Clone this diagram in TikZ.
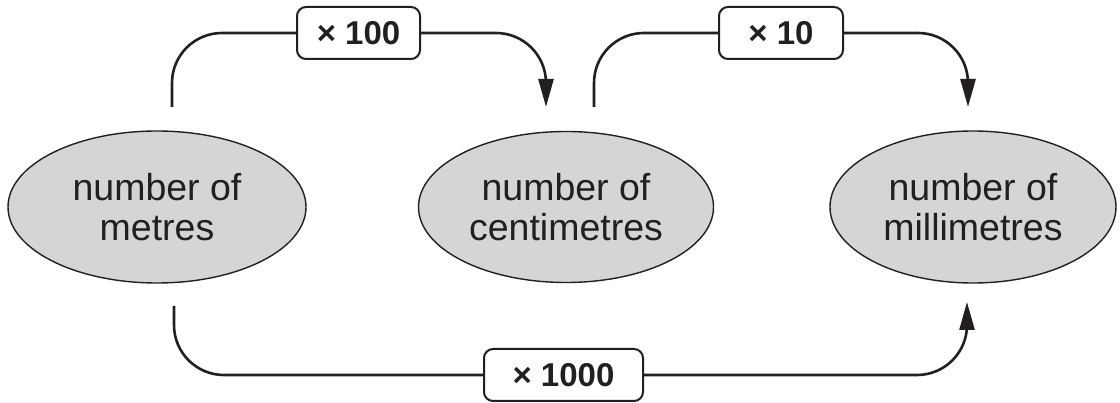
\documentclass[tikz,border=0pt]{standalone}
\usepackage{fontspec}
\setmainfont{Liberation Sans}
\usetikzlibrary{shapes.geometric,arrows.meta}
\definecolor{ellfill}{HTML}{D4D5D7}
\definecolor{ink}{HTML}{231F20}
\tikzset{
  qty/.style={ellipse, draw=ink, line width=1.4pt, fill=ellfill, inner sep=0pt,
    align=center, text=ink, font=\fontsize{37.5}{40}\selectfont},
  factor/.style={draw=ink, line width=2pt, rounded corners=9pt, fill=white, inner sep=0pt,
    minimum height=52pt, text=ink, font=\fontsize{33}{36}\selectfont\bfseries},
  flow/.style={draw=ink, line width=2.6pt, rounded corners=50pt},
  tip/.style={-{Triangle[length=28pt,width=15pt]}}
}
\begin{document}
\begin{tikzpicture}[x=1pt,y=-1pt]
\useasboundingbox (0,0) rectangle (1120,403);
% quantities
\node[qty, minimum width=298pt, minimum height=152pt] (m) at (157,207) {number of\\metres};
\node[qty, minimum width=295pt, minimum height=151pt] (cm) at (566,207) {number of\\centimetres};
\node[qty, minimum width=286pt, minimum height=152pt] (mm) at (973,207) {number of\\millimetres};
% factors
\node[factor, minimum width=123pt] (f100) at (358.5,33) {× 100};
\node[factor, minimum width=124pt] (f10) at (781,33) {× 10};
\node[factor, minimum width=159pt] (f1000) at (563.5,375) {× 1000};
% free ends
\coordinate (s1) at (172,107);
\coordinate (e1) at (546,107);
\coordinate (s2) at (594,107);
\coordinate (e2) at (968,107);
\coordinate (s3) at (174,306);
\coordinate (e3) at (967,302);
% connectors
\draw[flow] (s1) -- (s1 |- f100.west) -- (f100.west);
\draw[flow, tip] (f100.east) -- (e1 |- f100.east) -- (e1);
\draw[flow] (s2) -- (s2 |- f10.west) -- (f10.west);
\draw[flow, tip] (f10.east) -- (e2 |- f10.east) -- (e2);
\draw[flow] (s3) -- (s3 |- f1000.west) -- (f1000.west);
\draw[flow, tip] (f1000.east) -- (e3 |- f1000.east) -- (e3);
\end{tikzpicture}
\end{document}
